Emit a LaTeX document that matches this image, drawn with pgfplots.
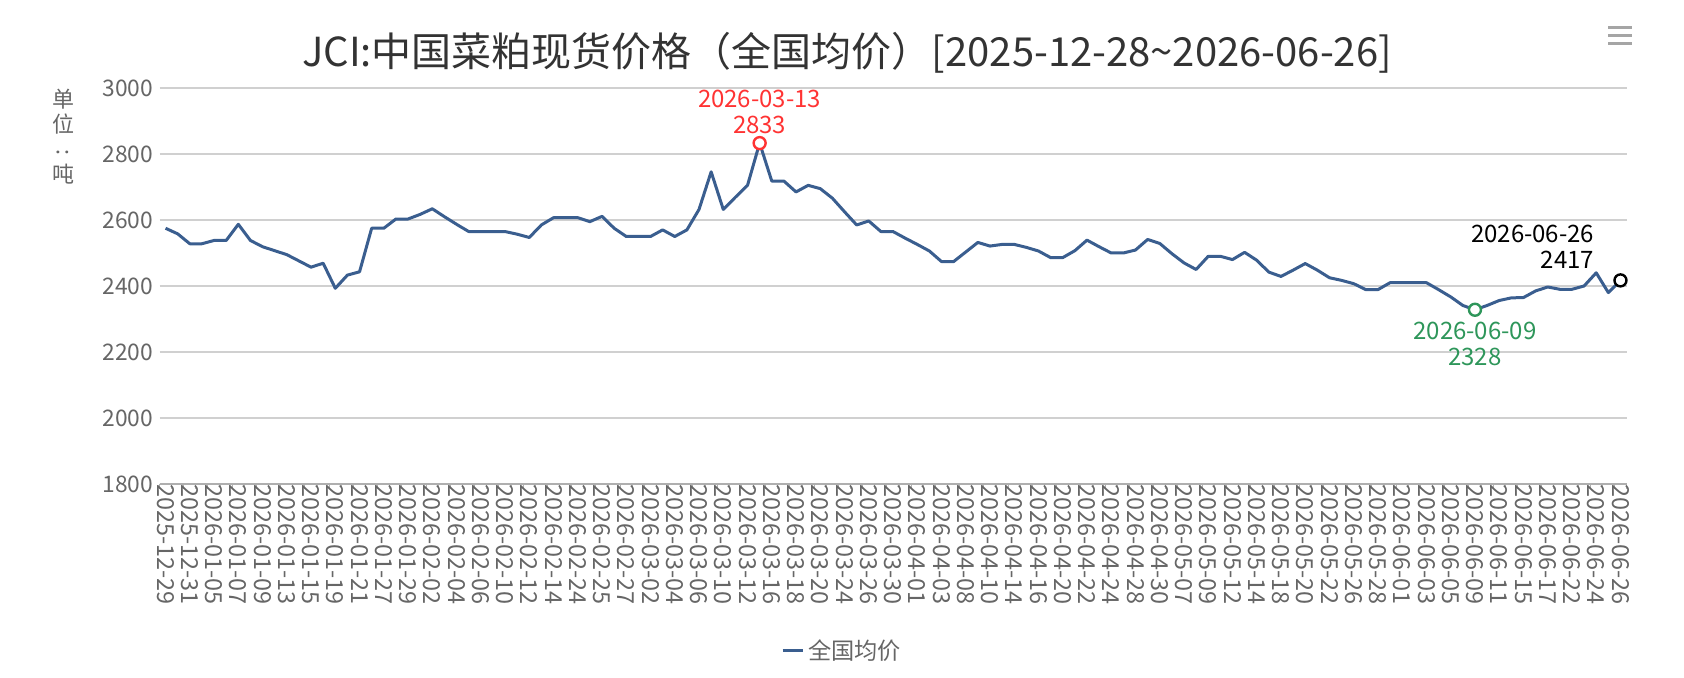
\documentclass[border=0pt]{standalone}
\usepackage{fontspec}
\setmainfont{Noto Sans CJK SC}
\usepackage{graphicx}
\usepackage{pgfplots}
\pgfplotsset{compat=1.18}

\definecolor{lineblue}{RGB}{58,94,143}
\definecolor{gridgray}{RGB}{208,208,208}
\definecolor{axisgray}{RGB}{175,175,175}
\definecolor{labelgray}{RGB}{102,102,102}
\definecolor{titlegray}{RGB}{51,51,51}
\definecolor{peakred}{RGB}{255,51,51}
\definecolor{mingreen}{RGB}{46,150,90}
\definecolor{menugray}{RGB}{165,165,165}

\pgfplotstableread{
k v
0 2575
1 2558
2 2528
3 2528
4 2538
5 2538
6 2587
7 2538
8 2519
9 2507
10 2495
11 2476
12 2457
13 2469
14 2393
15 2433
16 2443
17 2575
18 2575
19 2603
20 2603
21 2617
22 2634
23 2610
24 2587
25 2565
26 2565
27 2565
28 2565
29 2557
30 2547
31 2585
32 2607
33 2607
34 2607
35 2595
36 2611
37 2575
38 2550
39 2550
40 2550
41 2570
42 2550
43 2570
44 2632
45 2746
46 2632
47 2669
48 2705
49 2833
50 2718
51 2718
52 2685
53 2705
54 2695
55 2666
56 2625
57 2585
58 2597
59 2565
60 2565
61 2545
62 2526
63 2506
64 2474
65 2474
66 2503
67 2532
68 2521
69 2526
70 2526
71 2517
72 2506
73 2486
74 2486
75 2507
76 2539
77 2519
78 2500
79 2500
80 2509
81 2541
82 2529
83 2498
84 2470
85 2450
86 2490
87 2490
88 2480
89 2502
90 2478
91 2442
92 2429
93 2448
94 2468
95 2448
96 2425
97 2417
98 2407
99 2389
100 2389
101 2410
102 2410
103 2410
104 2410
105 2389
106 2367
107 2341
108 2328
109 2341
110 2356
111 2364
112 2365
113 2385
114 2397
115 2390
116 2390
117 2400
118 2440
119 2380
120 2417
}\pricetable

\begin{document}
\begin{tikzpicture}
\useasboundingbox (0,0) rectangle (842pt,339pt);
\node[font=\fontsize{20pt}{24pt}\selectfont, text=titlegray, inner sep=0pt] at (423.5pt,312.5pt) {JCI:中国菜粕现货价格（全国均价）[2025-12-28\textasciitilde 2026-06-26]};
\node[font=\fontsize{11pt}{12.5pt}\selectfont, text=labelgray, align=center, inner sep=0pt] at (31.5pt,270.5pt) {单\\位\\\rotatebox[origin=c]{90}{:}\\吨};
\draw[menugray, line width=1.5pt] (804pt,325pt) -- (816pt,325pt);
\draw[menugray, line width=1.5pt] (804pt,321pt) -- (816pt,321pt);
\draw[menugray, line width=1.5pt] (804pt,317pt) -- (816pt,317pt);
\begin{axis}[
  at={(79.75pt,97pt)}, anchor=south west,
  width=733.5pt, height=198pt, scale only axis,
  xmin=-0.5, xmax=120.5, ymin=1800, ymax=3000,
  axis lines*=left,
  y axis line style={draw=none},
  x axis line style={draw=axisgray, line width=1pt},
  ymajorgrids, grid style={gridgray, line width=0.75pt},
  ytick={1800,2000,...,3000},
  xtick={0,2,...,120},
  minor xtick={-0.5,0.5,...,120.5},
  major tick length=0pt, minor tick length=2.5pt,
  tick align=outside,
  minor tick style={draw=axisgray, line width=0.5pt},
  xticklabels={2025-12-29,2025-12-31,2026-01-05,2026-01-07,2026-01-09,2026-01-13,2026-01-15,2026-01-19,2026-01-21,2026-01-27,2026-01-29,2026-02-02,2026-02-04,2026-02-06,2026-02-10,2026-02-12,2026-02-14,2026-02-24,2026-02-25,2026-02-27,2026-03-02,2026-03-04,2026-03-06,2026-03-10,2026-03-12,2026-03-16,2026-03-18,2026-03-20,2026-03-24,2026-03-26,2026-03-30,2026-04-01,2026-04-03,2026-04-08,2026-04-10,2026-04-14,2026-04-16,2026-04-20,2026-04-22,2026-04-24,2026-04-28,2026-04-30,2026-05-07,2026-05-09,2026-05-12,2026-05-14,2026-05-18,2026-05-20,2026-05-22,2026-05-26,2026-05-28,2026-06-01,2026-06-03,2026-06-05,2026-06-09,2026-06-11,2026-06-15,2026-06-17,2026-06-22,2026-06-24,2026-06-26},
  yticklabel style={font=\fontsize{11.4pt}{13pt}\selectfont, text=labelgray, anchor=east, inner sep=0pt, xshift=-3pt},
  xticklabel style={font=\fontsize{11.7pt}{13pt}\selectfont, text=labelgray, rotate=-90, anchor=west, inner sep=0pt},
  /pgf/number format/assume math mode=true,
  /pgf/number format/1000 sep={},
  clip=false,
  legend style={draw=none, fill=none, at={(0.4660,-0.4217)}, anchor=center, font=\fontsize{11.6pt}{13pt}\selectfont, text=labelgray},
  legend image code/.code={\draw[#1, line width=1.5pt] (0pt,0pt) -- (10pt,0pt);},
]
\addplot[lineblue, line width=1.5pt, line join=round] table[x=k,y=v] {\pricetable};
\addlegendentry{全国均价}
\addplot[forget plot, only marks, mark=*, mark size=3pt, mark options={draw=peakred, fill=white, line width=1.2pt},
  nodes near coords={2026-03-13\\2833},
  every node near coord/.style={align=center, text=peakred, font=\fontsize{12pt}{13pt}\selectfont, anchor=south, inner sep=0pt, yshift=4pt}]
  coordinates {(49,2833)};
\addplot[forget plot, only marks, mark=*, mark size=3pt, mark options={draw=mingreen, fill=white, line width=1.2pt},
  nodes near coords={2026-06-09\\2328},
  every node near coord/.style={align=center, text=mingreen, font=\fontsize{12pt}{13pt}\selectfont, anchor=north, inner sep=0pt, yshift=-5.5pt}]
  coordinates {(108,2328)};
\addplot[forget plot, only marks, mark=*, mark size=3pt, mark options={draw=black, fill=white, line width=1.2pt},
  nodes near coords={2026-06-26\\2417},
  every node near coord/.style={align=right, text=black, font=\fontsize{12pt}{13pt}\selectfont, anchor=south east, inner sep=0pt, xshift=-12.5pt, yshift=5.5pt}]
  coordinates {(120,2417)};
\end{axis}
\end{tikzpicture}
\end{document}
